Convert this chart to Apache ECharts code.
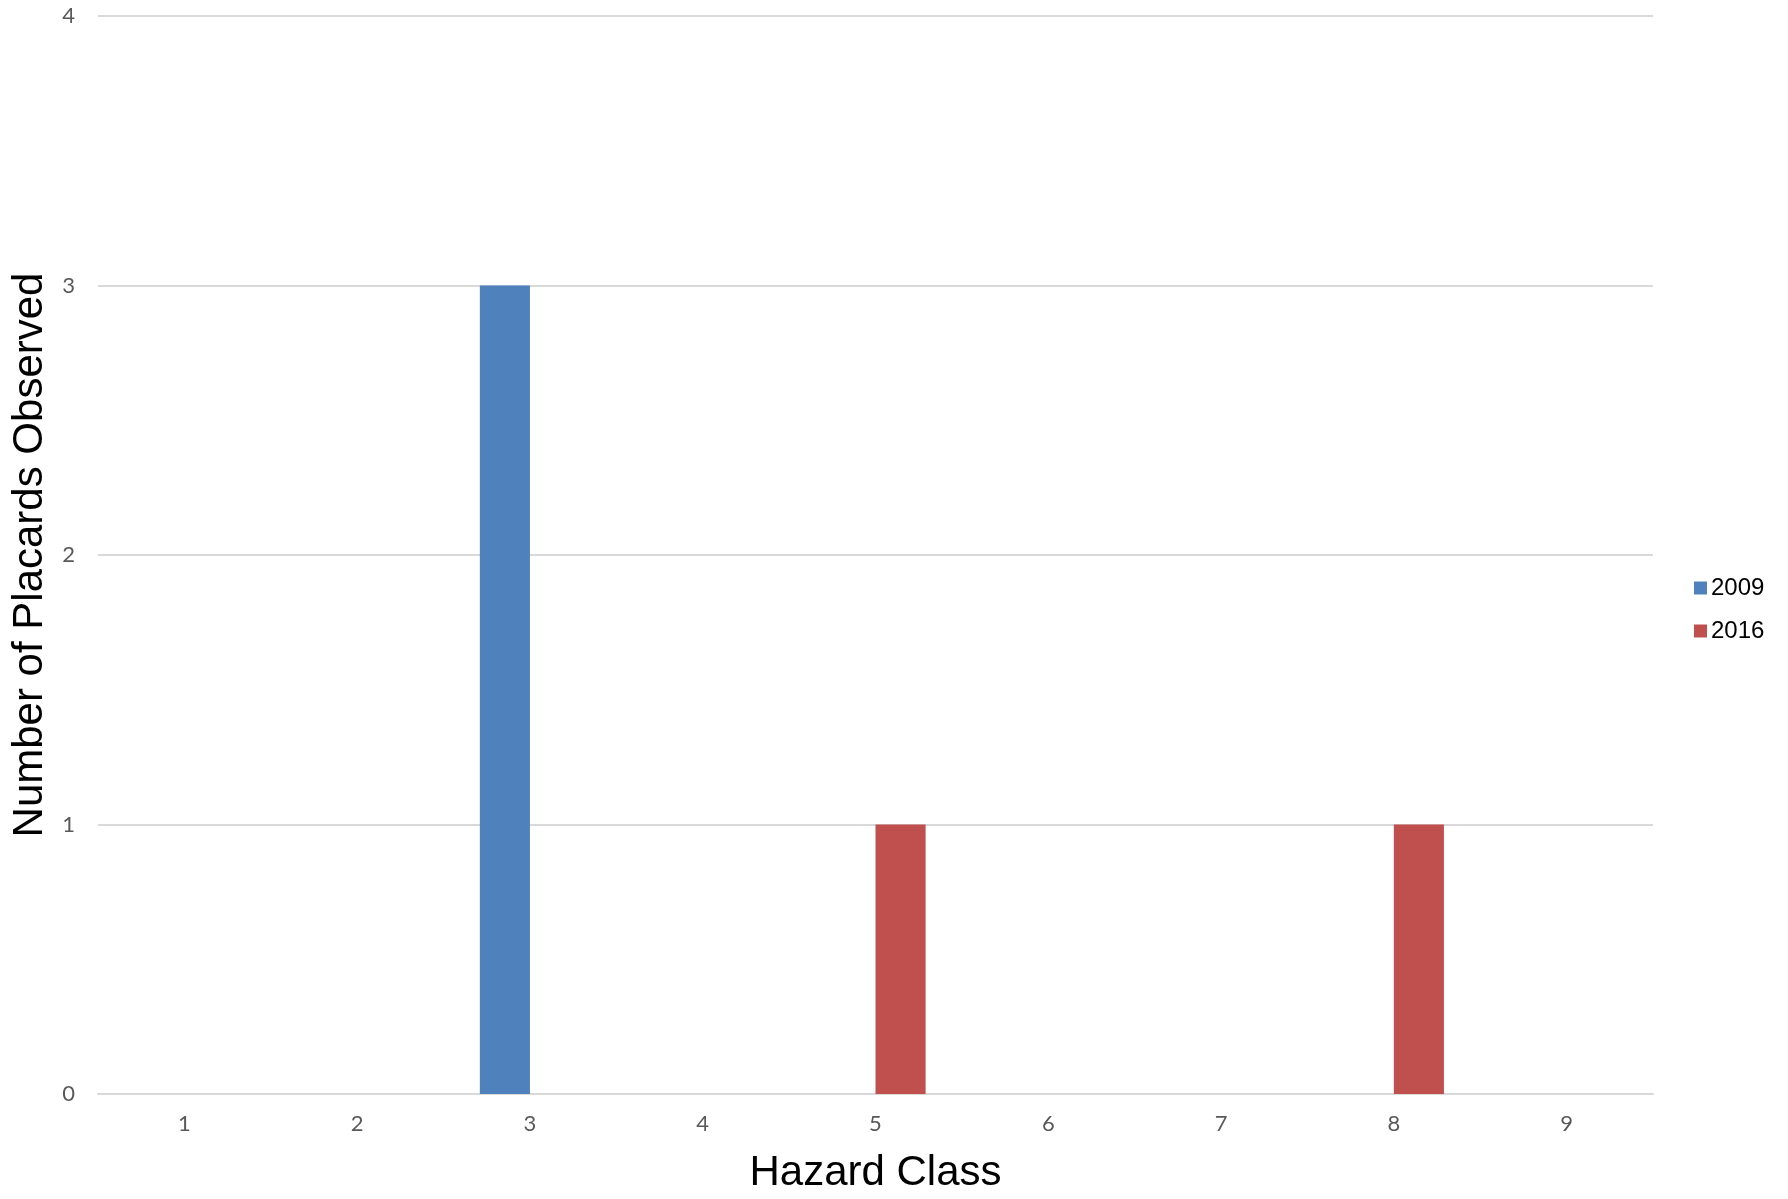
<!DOCTYPE html>
<html>
<head>
<meta charset="utf-8">
<script src="https://cdn.jsdelivr.net/npm/echarts@6/dist/echarts.min.js"></script>
<style>
  html, body { margin: 0; padding: 0; background: #ffffff; }
  #chart { width: 1788px; height: 1199px; }
</style>
</head>
<body>
<div id="chart"></div>
<script>
// Hazard classes observed on placards
const categories = ['1', '2', '3', '4', '5', '6', '7', '8', '9'];
const values2009 = [0, 0, 3, 0, 0, 0, 0, 0, 0];
const values2016 = [0, 0, 0, 0, 1, 0, 0, 1, 0];
const seriesNames = ['2009', '2016'];
const seriesColors = ['#4F81BD', '#C0504D'];

const chart = echarts.init(document.getElementById('chart'), null, { renderer: 'canvas' });

const tickFont = { fontFamily: 'Lato', fontSize: 22, color: '#595959' };

chart.setOption({
  animation: false,
  backgroundColor: '#ffffff',
  grid: { left: 98, right: 135, top: 16, bottom: 104, containLabel: false },
  legend: {
    orient: 'vertical',
    left: 1689,
    top: 571,
    itemWidth: 13,
    itemHeight: 13,
    itemGap: 19,
    icon: 'rect',
    textStyle: { fontFamily: 'Liberation Sans', fontSize: 24, color: '#000000', padding: [0, 0, 0, -1] },
    data: seriesNames
  },
  xAxis: {
    type: 'category',
    data: categories,
    name: 'Hazard Class',
    nameLocation: 'middle',
    nameGap: 58,
    nameTextStyle: { fontFamily: 'Liberation Sans', fontSize: 42, color: '#000000' },
    axisLine: { show: true, lineStyle: { color: '#D9D9D9', width: 2 } },
    axisTick: { show: false },
    axisLabel: Object.assign({ margin: 19 }, tickFont),
    splitLine: { show: false }
  },
  yAxis: {
    type: 'value',
    min: 0,
    max: 4,
    interval: 1,
    name: 'Number of Placards Observed',
    nameLocation: 'middle',
    nameGap: 40,
    nameTextStyle: { fontFamily: 'Liberation Sans', fontSize: 42, color: '#000000' },
    axisLine: { show: false },
    axisTick: { show: false },
    axisLabel: Object.assign({ margin: 23 }, tickFont),
    splitLine: { show: true, lineStyle: { color: '#D9D9D9', width: 2 } }
  },
  series: [
    {
      name: seriesNames[0],
      type: 'bar',
      data: values2009,
      itemStyle: { color: seriesColors[0] },
      barGap: '0%',
      barCategoryGap: '42%'
    },
    {
      name: seriesNames[1],
      type: 'bar',
      data: values2016,
      itemStyle: { color: seriesColors[1] },
      barGap: '0%',
      barCategoryGap: '42%'
    }
  ]
});
</script>
</body>
</html>
